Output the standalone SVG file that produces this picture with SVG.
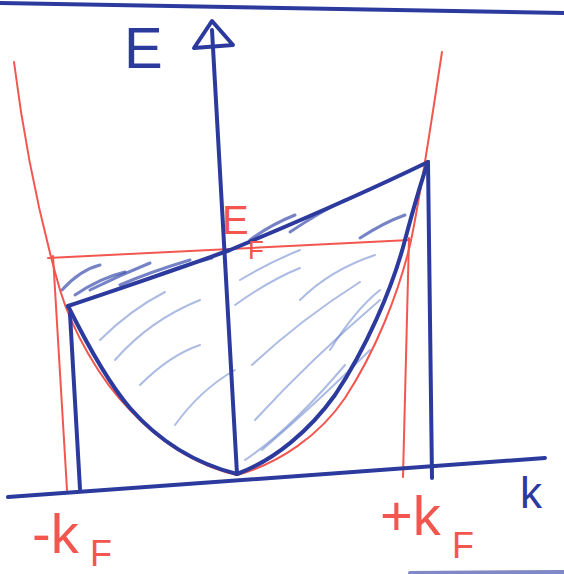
<svg xmlns="http://www.w3.org/2000/svg" width="564" height="574" viewBox="0 0 564 574">
<style>
.blue{fill:none;stroke:#2c3a9e;stroke-width:4;stroke-linecap:round;stroke-linejoin:round}
.red{fill:none;stroke:#f2564f;stroke-width:2;stroke-linecap:round;stroke-linejoin:round}
.hatch{fill:none;stroke:#5a78c8;stroke-width:2;stroke-linecap:round;opacity:0.5}
.hatchd{fill:none;stroke:#3a4fae;stroke-width:3;stroke-linecap:round;opacity:0.7}
.lblue{font-family:"Liberation Sans",sans-serif;fill:#2c3a9e}
.lred{font-family:"Liberation Sans",sans-serif;fill:#f2564f}
</style>
<rect width="564" height="574" fill="#ffffff"/>
<g id="frame">
<path class="blue" d="M0,3 L564,13" stroke-width="3"/>
<path class="blue" d="M410,573 L564,572" stroke-width="2" opacity="0.6"/>
</g>
<g id="hatching">
<path class="hatchd" d="M62,290 Q80,270 100,265"/>
<path class="hatchd" d="M75,295 Q100,278 125,272"/>
<path class="hatchd" d="M90,290 Q120,275 150,263"/>
<path class="hatchd" d="M120,285 Q150,272 190,260"/>
<path class="hatchd" d="M150,278 Q180,266 212,258"/>
<path class="hatchd" d="M250,240 Q270,225 295,215"/>
<path class="hatchd" d="M290,232 Q320,212 345,200"/>
<path class="hatchd" d="M360,238 Q385,222 405,215"/>
<path class="hatch" d="M100,340 Q130,310 165,292"/>
<path class="hatch" d="M115,360 Q150,320 200,300"/>
<path class="hatch" d="M140,385 Q170,355 200,345"/>
<path class="hatch" d="M175,425 Q200,390 235,370"/>
<path class="hatch" d="M235,305 Q270,280 300,268"/>
<path class="hatch" d="M252,365 Q300,320 360,282"/>
<path class="hatch" d="M255,420 Q310,360 380,300"/>
<path class="hatch" d="M262,450 Q320,400 370,350"/>
<path class="hatch" d="M300,300 Q330,270 375,255"/>
<path class="hatch" d="M330,350 Q355,310 380,290"/>
<path class="hatch" d="M245,460 Q290,430 345,365"/>
<path class="hatch" d="M240,280 Q270,262 300,250"/>
</g>
<g id="fermi-sea">
<path class="red" d="M14,62 C25,150 40,220 60,290 C72,330 100,380 130,410 C165,448 205,468 237,475 C280,463 320,435 345,398 C375,352 398,295 410,245 C420,200 430,130 442,52"/>
<path class="red" d="M48,258 L410,240"/>
<path class="red" d="M53,256 L67,490"/>
<path class="red" d="M409,238 L403,477"/>
</g>
<g id="shifted-band">
<path class="blue" d="M68,306 C90,350 110,385 130,408 C165,448 205,466 237,474 C275,460 310,430 335,395 C365,350 392,290 405,240 C413,210 420,185 428,162"/>
<path class="blue" d="M68,306 C130,285 170,272 230,250 C290,225 360,195 428,162"/>
<path class="blue" d="M70,314 L80,489"/>
<path class="blue" d="M428,162 L432,478"/>
</g>
<g id="axes">
<path class="blue" d="M8,497 L545,458"/>
<path class="blue" d="M237,474 L212,30"/>
<path class="blue" d="M212,21 L194,48 L233,45 Z" stroke-width="3.5"/>
</g>
<g id="labels">
<text class="lblue" x="124" y="68" font-size="58">E</text>
<text class="lblue" x="520" y="508" font-size="44">k</text>
<text class="lred" x="222" y="234" font-size="40">E</text>
<text class="lred" x="248" y="259" font-size="26">F</text>
<text class="lred" x="32" y="553" font-size="56">-k</text>
<text class="lred" x="90" y="566" font-size="36">F</text>
<text class="lred" x="380" y="535" font-size="56">+k</text>
<text class="lred" x="452" y="558" font-size="36">F</text>
</g>
</svg>
